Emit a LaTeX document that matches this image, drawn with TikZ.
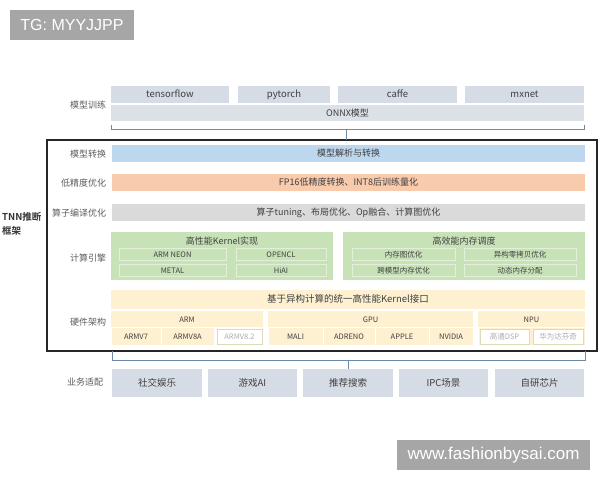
\documentclass[tikz,border=0pt]{standalone}
\usepackage{fontspec}
\setmainfont{Noto Sans CJK SC}[BoldFont={Noto Sans CJK SC Bold}]
\newfontfamily\wmfont{Liberation Sans}
\usetikzlibrary{calc}
\definecolor{txt}{HTML}{3F3F3F}
\definecolor{boxgray}{HTML}{D6DCE5}
\definecolor{onnxgray}{HTML}{DCE1E8}
\definecolor{convblue}{HTML}{BDD7EE}
\definecolor{lowporange}{HTML}{F8CBAD}
\definecolor{compgray}{HTML}{DADADA}
\definecolor{kgreen}{HTML}{C8E2B8}
\definecolor{kline}{HTML}{E2EFD9}
\definecolor{hwyel}{HTML}{FEF1D2}
\definecolor{ghostline}{HTML}{DCDDB8}
\definecolor{ghosttext}{HTML}{ADADAD}
\definecolor{brkblue}{HTML}{6A8CAA}
\definecolor{wmgray}{HTML}{A6A6A6}
\newcommand\fsz[1]{\fontsize{#1}{#1}\selectfont}
\def\blk[#1](#2,#3)(#4,#5)#6#7{\node[#1, minimum width={(#4)-(#2)}, minimum height={(#5)-(#3)}] (#6) at ({((#2)+(#4))/2},{((#3)+(#5))/2}) {#7};}
\tikzset{
	base/.style={inner sep=0pt, outer sep=0pt, text=txt, font=\fsz{9.5}, text height=0.8em, text depth=0.12em},
	fw/.style={base, fill=boxgray},
	bar/.style={base, fill=#1, font=\fsz{9}},
	rowlbl/.style={base, anchor=east, font=\fsz{9}, text=txt!85},
	kbox/.style={base, fill=kgreen},
	kcell/.style={base, draw=kline, line width=0.7pt, font=\fsz{7.5}},
	hwcell/.style={base, fill=hwyel, draw=white, line width=1pt, font=\fsz{7.5}},
	ghost/.style={base, fill=white, draw=ghostline, line width=0.8pt, text=ghosttext, font=\fsz{7.5}},
	brk/.style={draw=brkblue, line width=0.8pt},
	wm/.style={inner sep=0pt, outer sep=0pt, fill=wmgray, text=white},
}

\begin{document}
\begin{tikzpicture}[x=1pt, y=-1pt]
			\useasboundingbox (0,0) rectangle (600,480);
			%%%%% START %%%%%
			\blk[wm, font=\wmfont\fsz{16}](10,10)(134,40){tg}{TG: MYYJJPP}
			\blk[wm, font=\wmfont\fsz{17}](397,440)(590,470){site}{www.fashionbysai.com}
			
			% training
			\node[rowlbl] (trainlbl) at (106,105) {模型训练};
			\blk[fw](111,86)(229,103){tf}{tensorflow}
			\blk[fw](238,86)(330,103){pt}{pytorch}
			\blk[fw](338,86)(457,103){caffe}{caffe}
			\blk[fw](465,86)(584,103){mx}{mxnet}
			\blk[fw, fill=onnxgray, font=\fsz{9}](111,105)(584,121){onnx}{ONNX模型}
			
			% framework
			\blk[base, draw=black!85, line width=1.3pt](47,140)(597,351){frame}{}
			\node[inner sep=0pt, anchor=west, align=left, font=\fontsize{9.5}{14}\selectfont\bfseries, text=black!80] (tnn) at (2,224) {TNN推断\\框架};
			\coordinate (tb) at (346,129);
			\draw[brk] ($(onnx.south west)+(0,4)$) -- ($(onnx.south west)+(0,8)$) -- ($(onnx.south east)+(0,8)$) -- ($(onnx.south east)+(0,4)$);
			\draw[brk] (tb) -- (tb |- frame.north);
			
			\node[rowlbl] (convlbl) at (106,154) {模型转换};
			\blk[bar=convblue](112,145)(585,162){conv}{模型解析与转换}
			\node[rowlbl] (lowplbl) at (106,183) {低精度优化};
			\blk[bar=lowporange](112,174)(585,191){lowp}{FP16低精度转换、INT8后训练量化}
			\node[rowlbl] (complbl) at (106,213) {算子编译优化};
			\blk[bar=compgray](112,204)(585,221){comp}{算子tuning、布局优化、Op融合、计算图优化}
			
			% engine
			\node[rowlbl] (englbl) at (106,258) {计算引擎};
			\blk[kbox](111,232)(333,280){kern}{}
			\node[base, font=\fsz{9}] (kernt) at (222,241) {高性能Kernel实现};
			\blk[kcell](119,248)(226,260){neon}{ARM NEON}
			\blk[kcell](236,248)(326,260){ocl}{OPENCL}
			\blk[kcell](119,264)(226,276){metal}{METAL}
			\blk[kcell](236,264)(326,276){hiai}{HiAI}
			\blk[kbox](343,232)(585,280){mem}{}
			\node[base, font=\fsz{9}] (memt) at (464,241) {高效能内存调度};
			\blk[kcell](352,248)(455,260){memg}{内存图优化}
			\blk[kcell](464,248)(576,260){zcopy}{异构零拷贝优化}
			\blk[kcell](352,264)(455,276){xmod}{跨模型内存优化}
			\blk[kcell](464,264)(576,276){dyn}{动态内存分配}
			
			% hardware
			\node[rowlbl] (hwlbl) at (106,322) {硬件架构};
			\blk[base, fill=hwyel](111,290)(585,309){kif}{基于异构计算的统一高性能Kernel接口}
			\blk[base, fill=hwyel, font=\fsz{7.5}](111,311)(263,327){arm}{ARM}
			\blk[hwcell](111,327)(161,345){v7}{ARMV7}
			\blk[hwcell](161,327)(214,345){v8a}{ARMV8A}
			\blk[ghost](217,329)(262,344){v82}{ARMV8.2}
			\blk[base, fill=hwyel, font=\fsz{7.5}](268,311)(473,327){gpu}{GPU}
			\blk[hwcell](268,327)(323,345){mali}{MALI}
			\blk[hwcell](323,327)(375,345){adreno}{ADRENO}
			\blk[hwcell](375,327)(429,345){apple}{APPLE}
			\blk[hwcell](429,327)(473,345){nvidia}{NVIDIA}
			\blk[base, fill=hwyel, font=\fsz{7.5}](478,311)(585,327){npu}{NPU}
			\blk[hwcell](478,327)(585,345){npurow}{}
			\blk[ghost](480,329)(529,344){dsp}{高通DSP}
			\blk[ghost](533,329)(583,344){davinci}{华为达芬奇}
			
			% business
			\node[rowlbl] (bizlbl) at (103,382) {业务适配};
			\blk[fw](112,369)(202,397){social}{社交娱乐}
			\blk[fw](208,369)(297,397){game}{游戏AI}
			\blk[fw](303,369)(393,397){rec}{推荐搜索}
			\blk[fw](399,369)(488,397){ipc}{IPC场景}
			\blk[fw](495,369)(584,397){chip}{自研芯片}
			\coordinate (bb) at (112,360);
			\coordinate (be) at (585,360);
			\draw[brk] (bb |- frame.south) -- (bb) -- (be) -- (be |- frame.south);
			\draw[brk] (rec.north) -- (rec.north |- bb);
			%%%%% END %%%%%
		\end{tikzpicture}
\end{document}
